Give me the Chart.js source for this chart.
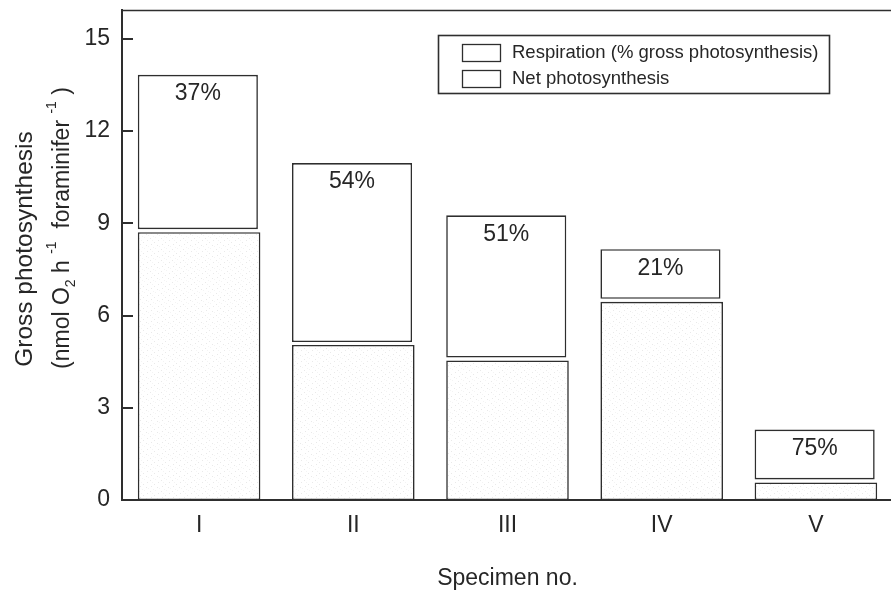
<!DOCTYPE html>
<html>
<head>
<meta charset="utf-8">
<script src="https://cdn.jsdelivr.net/npm/chart.js@4.4.1/dist/chart.umd.min.js"></script>
<style>
  html, body { margin: 0; padding: 0; background: #fff; overflow: hidden; }
  #wrap { width: 891px; height: 595px; overflow: hidden; position: relative; }
  canvas { display: block; }
</style>
</head>
<body>
<div id="wrap"><canvas id="chart" width="895" height="595"></canvas></div>
<script>
// Specimens and their gross photosynthesis (nmol O2 h-1 foraminifer-1)
const specimens = ['I', 'II', 'III', 'IV', 'V'];
const grossPhotosynthesis = [13.83, 10.96, 9.26, 8.16, 2.29];
// Respiration expressed as % of gross photosynthesis
const respirationPercent = [37, 54, 51, 21, 75];
const yTickValues = [0, 3, 6, 9, 12, 15];
const yMax = 15.94;

// Split each gross value into net photosynthesis + respiration
const respiration = grossPhotosynthesis.map((g, i) => g * respirationPercent[i] / 100);
const netPhotosynthesis = grossPhotosynthesis.map((g, i) => g - respiration[i]);

const FONT = '"Liberation Sans", Arial, Helvetica, sans-serif';
const INK = '#262626';
const LINE = '#2e2e2e';

// Faint diagonal stipple used for the net photosynthesis bars
function stipple() {
  const c = document.createElement('canvas');
  c.width = 11; c.height = 11;
  const g = c.getContext('2d');
  g.fillStyle = '#ffffff';
  g.fillRect(0, 0, 11, 11);
  g.fillStyle = 'rgba(120,120,120,0.16)';
  [[0,0],[3,3],[7,7],[8,2],[4,9]].forEach(([x, y]) => g.fillRect(x, y, 1, 1));
  g.fillStyle = 'rgba(120,120,120,0.08)';
  [[1,6],[5,4],[10,5],[9,9]].forEach(([x, y]) => g.fillRect(x, y, 1, 1));
  return g.createPattern(c, 'repeat');
}
const ctx = document.getElementById('chart').getContext('2d');
const netFill = stipple();

// Draws a line of text rotated 90deg counter-clockwise with sub/superscript runs
function drawRotatedRich(c, runs, cy, baseX, size) {
  const fontFor = r => (r.kind === 'n' ? size : Math.round(size * 0.62)) + 'px ' + FONT;
  let total = 0;
  runs.forEach(r => { c.font = fontFor(r); total += c.measureText(r.t).width; });
  c.save();
  c.translate(baseX, cy);
  c.rotate(-Math.PI / 2);
  c.textBaseline = 'alphabetic';
  c.textAlign = 'left';
  c.fillStyle = INK;
  let x = -total / 2;
  runs.forEach(r => {
    c.font = fontFor(r);
    const dy = r.kind === 'sub' ? size * 0.28 : r.kind === 'sup' ? -size * 0.55 : 0;
    c.fillText(r.t, x, dy);
    x += c.measureText(r.t).width;
  });
  c.restore();
}

const decorations = {
  id: 'decorations',
  afterDatasetsUpdate(chart) {
    // respiration box sits just above the net box, a little narrower
    chart.getDatasetMeta(1).data.forEach(el => {
      el.base -= 3;
      el.width -= 2.5;
      el.x -= 1.25;
    });
  },
  afterDatasetsDraw(chart) {
    const c = chart.ctx;
    c.save();
    c.fillStyle = INK;
    c.font = '23px ' + FONT;
    c.textAlign = 'center';
    c.textBaseline = 'middle';
    chart.getDatasetMeta(1).data.forEach((el, i) => {
      c.fillText(respirationPercent[i] + '%', el.x, el.y + 19);
    });
    c.restore();
  },
  afterDraw(chart) {
    const c = chart.ctx;
    const a = chart.chartArea;
    const ys = chart.scales.y;
    c.save();
    c.strokeStyle = LINE;
    // top frame line
    c.lineWidth = 1.6;
    c.beginPath();
    c.moveTo(a.left, a.top + 0.5);
    c.lineTo(chart.width, a.top + 0.5);
    c.stroke();
    // inward tick marks on the y axis
    c.lineWidth = 2;
    ys.ticks.forEach(t => {
      const py = Math.round(ys.getPixelForValue(t.value));
      c.beginPath();
      c.moveTo(a.left, py);
      c.lineTo(a.left + 11, py);
      c.stroke();
    });
    // legend
    const lx = a.left + 316, ly = a.top + 25, lw = 391, lh = 58;
    c.lineWidth = 1.6;
    c.strokeRect(lx + 0.5, ly + 0.5, lw, lh);
    c.lineWidth = 1.3;
    c.font = '18.5px ' + FONT;
    c.textAlign = 'left';
    c.textBaseline = 'middle';
    chart.data.datasets.slice().reverse().forEach((ds, k) => {
      const sy = ly + 9 + k * 26;
      c.fillStyle = '#fff';
      c.fillRect(lx + 24, sy, 38, 17);
      c.strokeRect(lx + 24.5, sy + 0.5, 38, 17);
      c.fillStyle = INK;
      c.fillText(ds.label, lx + 74, sy + 8.5);
    });
    // y-axis title (two lines)
    drawRotatedRich(c, [{ t: 'Gross photosynthesis', kind: 'n' }], 249, 32, 24.5);
    drawRotatedRich(c, [
      { t: '(nmol O', kind: 'n' },
      { t: '2', kind: 'sub' },
      { t: ' h ', kind: 'n' },
      { t: '-1', kind: 'sup' },
      { t: '  foraminifer ', kind: 'n' },
      { t: '-1', kind: 'sup' },
      { t: ' )', kind: 'n' }
    ], 228, 69, 23);
    c.restore();
  }
};

new Chart(ctx, {
  type: 'bar',
  data: {
    labels: specimens,
    datasets: [
      {
        label: 'Net photosynthesis',
        data: netPhotosynthesis,
        backgroundColor: netFill,
        borderColor: LINE,
        borderWidth: 1.6,
        borderSkipped: false
      },
      {
        label: 'Respiration (% gross photosynthesis)',
        data: respiration,
        backgroundColor: '#ffffff',
        borderColor: LINE,
        borderWidth: 1.6,
        borderSkipped: false
      }
    ]
  },
  options: {
    responsive: false,
    animation: false,
    devicePixelRatio: 1,
    layout: { padding: { top: 10, right: 2, left: 0, bottom: 0 } },
    datasets: { bar: { categoryPercentage: 1, barPercentage: 0.795 } },
    plugins: { legend: { display: false }, tooltip: { enabled: false } },
    scales: {
      x: {
        stacked: true,
        grid: { display: false, drawTicks: false },
        border: { display: true, color: LINE, width: 2 },
        ticks: { padding: 12, color: INK, font: { family: FONT, size: 23 } },
        title: {
          display: true, text: 'Specimen no.', color: INK,
          font: { family: FONT, size: 23 }, padding: { top: 0, bottom: 3 }
        },
        afterFit(s) { s.height = 95; s.paddingLeft = 0; s.paddingRight = 0; }
      },
      y: {
        stacked: true,
        min: 0,
        max: yMax,
        afterBuildTicks(s) { s.ticks = yTickValues.map(v => ({ value: v })); },
        grid: { display: false, drawTicks: false },
        border: { display: true, color: LINE, width: 2 },
        ticks: { padding: 12, color: INK, font: { family: FONT, size: 23 } },
        afterFit(s) { s.width = 122; s.paddingTop = 0; s.paddingBottom = 0; }
      }
    }
  },
  plugins: [decorations]
});
</script>
</body>
</html>
